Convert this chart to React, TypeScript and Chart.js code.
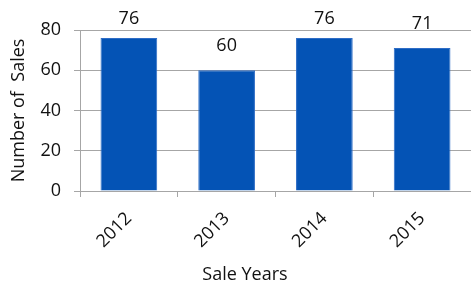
import React, { useEffect, useRef } from "react";
import { Chart, registerables } from "chart.js";

Chart.register(...registerables);

const categories = ["2012", "2013", "2014", "2015"];
const salesValues = [76, 60, 76, 71];
const yTicks = [0, 20, 40, 60, 80];
const xTitle = "Sale Years";
const yTitle = "Number of  Sales";

const FONT = "'Open Sans', 'Liberation Sans', sans-serif";
const TEXT = "#111111";
const SIZE = 18;

const valueLabels = {
  id: "valueLabels",
  afterDatasetsDraw(chart: any) {
    const ctx = chart.ctx;
    const meta = chart.getDatasetMeta(0);
    ctx.save();
    ctx.font = `${SIZE}px ${FONT}`;
    ctx.fillStyle = TEXT;
    ctx.textAlign = "center";
    ctx.textBaseline = "middle";
    meta.data.forEach((bar: any, i: number) => {
      const y = Math.max(bar.y - 24.5, 18.5);
      ctx.fillText(String(salesValues[i]), bar.x, y);
    });
    ctx.restore();
  },
};

const xTitlePlugin = {
  id: "xTitlePlugin",
  afterDraw(chart: any) {
    const ctx = chart.ctx;
    ctx.save();
    ctx.font = `${SIZE}px ${FONT}`;
    ctx.fillStyle = TEXT;
    ctx.textAlign = "center";
    ctx.textBaseline = "middle";
    ctx.fillText(xTitle, 245, 275);
    ctx.restore();
  },
};

export default function App() {
  const ref = useRef<HTMLCanvasElement | null>(null);

  useEffect(() => {
    document.body.style.margin = "0";
    if (!ref.current) return;
    const chart = new Chart(ref.current, {
      type: "bar",
      data: {
        labels: categories,
        datasets: [
          {
            data: salesValues,
            backgroundColor: "#0453B5",
            borderColor: "#2f6dc6",
            borderWidth: 1,
            barPercentage: 1,
            categoryPercentage: 0.58,
          },
        ],
      },
      options: {
        animation: false,
        responsive: false,
        maintainAspectRatio: false,
        layout: { padding: { top: 30, left: 0, right: 0, bottom: 0 } },
        plugins: {
          legend: { display: false },
          tooltip: { enabled: false },
          title: { display: false },
        },
        scales: {
          x: {
            grid: {
              display: true,
              drawOnChartArea: false,
              drawTicks: true,
              tickLength: 6,
              color: "#a6a6a6",
              offset: true,
            },
            border: { display: true, color: "#a6a6a6", width: 1 },
            ticks: {
              color: TEXT,
              font: { family: FONT, size: SIZE },
              maxRotation: 45,
              minRotation: 45,
              padding: 11,
            },
            afterFit(scale: any) {
              scale.height = 95;
            },
          },
          y: {
            min: 0,
            max: 80,
            afterBuildTicks(scale: any) {
              scale.ticks = yTicks.map((v) => ({ value: v }));
            },
            grid: {
              color: "#a6a6a6",
              tickLength: 6,
              drawTicks: true,
            },
            border: { display: true, color: "#a6a6a6", width: 1 },
            ticks: {
              color: TEXT,
              font: { family: FONT, size: SIZE },
              padding: 13,
            },
            title: {
              display: true,
              text: yTitle,
              color: TEXT,
              font: { family: FONT, size: SIZE },
              padding: { top: 8, bottom: 0 },
            },
            afterFit(scale: any) {
              scale.width = 80;
            },
          },
        },
      },
      plugins: [valueLabels, xTitlePlugin],
    });
    return () => chart.destroy();
  }, []);

  return (
    <div style={{ width: 471, height: 286 }}>
      <canvas ref={ref} width={471} height={286} style={{ width: 471, height: 286 }} />
    </div>
  );
}
